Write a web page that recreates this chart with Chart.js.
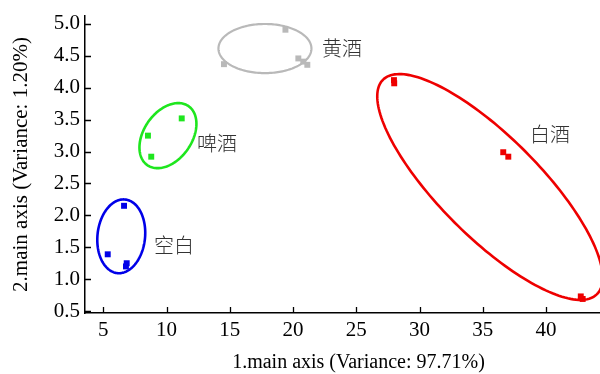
<!DOCTYPE html>
<html>
<head>
<meta charset="utf-8">
<script src="https://cdn.jsdelivr.net/npm/chart.js@4/dist/chart.umd.min.js"></script>
<style>
  html, body { margin: 0; padding: 0; background: #fff; overflow: hidden; }
  /* the plot runs a little past the right edge of the frame */
  #frame { width: 600px; height: 374px; overflow: hidden; position: relative; }
  #wrap { width: 632px; height: 374px; position: relative; }
  canvas { display: block; }
</style>
</head>
<body>
<div id="frame"><div id="wrap"><canvas id="c"></canvas></div></div>
<script>
// Sample groups (PCA scores)
const groups = ['空白', '啤酒', '黄酒', '白酒'];
const colors = ['#0000e8', '#1ee61e', '#b9b9b9', '#ee0000'];

const blankX  = [6.64, 5.35, 6.79, 6.85];
const blankY  = [2.15, 1.39, 1.20, 1.25];
const beerX   = [11.2, 8.53, 8.79];
const beerY   = [3.52, 3.25, 2.92];
const yellowX = [19.4, 14.54, 20.42, 20.81, 21.13];
const yellowY = [4.91, 4.37, 4.46, 4.41, 4.36];
const whiteX  = [27.98, 28.0, 36.62, 37.02, 42.75, 42.9];
const whiteY  = [4.12, 4.07, 2.99, 2.92, 0.73, 0.69];

// Confidence ellipses: centre and two conjugate semi-axes, in axis units
const ellCx = [6.42, 10.11, 17.78, 35.57];
const ellCy = [1.672, 3.25, 4.615, 2.445];
const ellU  = [[1.871, -0.039], [1.63, 0.462], [3.676, 0], [8.46, -1.68]];
const ellV  = [[0.306, 0.577], [-1.554, 0.216], [0, 0.385], [2.80, 0.556]];

// Group name positions (left edge, vertical middle), in axis units
const labelX = [9.01, 12.41, 22.29, 38.73];
const labelY = [1.536, 3.135, 4.62, 3.276];

const xTicks = [5, 10, 15, 20, 25, 30, 35, 40];
const yTicks = [0.5, 1.0, 1.5, 2.0, 2.5, 3.0, 3.5, 4.0, 4.5, 5.0];

const xs = [blankX, beerX, yellowX, whiteX];
const ys = [blankY, beerY, yellowY, whiteY];

const datasets = groups.map((g, i) => ({
  label: g,
  data: xs[i].map((x, k) => ({ x: x, y: ys[i][k] })),
  pointStyle: 'rect',
  pointRadius: 4.2,
  pointHoverRadius: 4.2,
  backgroundColor: colors[i],
  borderColor: colors[i],
  borderWidth: 0,
  showLine: false
}));

const ellipsePlugin = {
  id: 'ellipses',
  beforeDatasetsDraw(chart) {
    const { ctx, scales: { x, y } } = chart;
    ctx.save();
    groups.forEach((g, i) => {
      ctx.beginPath();
      const n = 180;
      for (let k = 0; k <= n; k++) {
        const t = (k / n) * Math.PI * 2;
        const dx = ellCx[i] + ellU[i][0] * Math.cos(t) + ellV[i][0] * Math.sin(t);
        const dy = ellCy[i] + ellU[i][1] * Math.cos(t) + ellV[i][1] * Math.sin(t);
        const px = x.getPixelForValue(dx);
        const py = y.getPixelForValue(dy);
        if (k === 0) ctx.moveTo(px, py); else ctx.lineTo(px, py);
      }
      ctx.closePath();
      ctx.strokeStyle = colors[i];
      ctx.lineWidth = i === 2 ? 2.2 : 2.6;
      ctx.stroke();
    });
    ctx.restore();
  },
  afterDatasetsDraw(chart) {
    const { ctx, scales: { x, y } } = chart;
    ctx.save();
    ctx.font = '300 20px "Noto Sans CJK SC"';
    ctx.fillStyle = '#333';
    ctx.textAlign = 'left';
    ctx.textBaseline = 'middle';
    groups.forEach((g, i) => {
      ctx.fillText(g, x.getPixelForValue(labelX[i]), y.getPixelForValue(labelY[i]));
    });
    ctx.restore();
  }
};

// Inward tick marks on both axes
const innerTicks = {
  id: 'innerTicks',
  afterDraw(chart) {
    const { ctx, chartArea, scales: { x, y } } = chart;
    ctx.save();
    ctx.strokeStyle = '#000';
    ctx.lineWidth = 1.3;
    ctx.beginPath();
    xTicks.forEach(v => {
      const px = Math.round(x.getPixelForValue(v)) + 0.5;
      ctx.moveTo(px, chartArea.bottom);
      ctx.lineTo(px, chartArea.bottom - 6);
    });
    yTicks.forEach(v => {
      const py = Math.round(y.getPixelForValue(v)) + 0.5;
      ctx.moveTo(chartArea.left, py);
      ctx.lineTo(chartArea.left + 6, py);
    });
    ctx.stroke();
    ctx.restore();
  }
};

new Chart(document.getElementById('c'), {
  type: 'scatter',
  data: { datasets },
  options: {
    responsive: true,
    maintainAspectRatio: false,
    animation: false,
    events: [],
    layout: { autoPadding: false, padding: { top: 16, right: 0, left: 0, bottom: 0 } },
    plugins: { legend: { display: false }, tooltip: { enabled: false } },
    scales: {
      x: {
        type: 'linear',
        min: 3.553,
        max: 46.8,
        afterBuildTicks(s) { s.ticks = xTicks.map(v => ({ value: v })); },
        afterFit(s) { s.height = 61; s.paddingLeft = 0; s.paddingRight = 0; },
        grid: { display: true, drawOnChartArea: false, drawTicks: false },
        border: { display: true, color: '#000', width: 1.5 },
        ticks: {
          padding: 5,
          color: '#000',
          font: { family: '"Liberation Serif"', size: 21 },
          callback: v => String(v)
        },
        title: {
          display: true,
          text: '1.main axis (Variance: 97.71%)',
          color: '#000',
          font: { family: '"Liberation Serif"', size: 20 },
          padding: { top: 0, bottom: -1 }
        }
      },
      y: {
        type: 'linear',
        min: 0.47,
        max: 5.125,
        afterBuildTicks(s) { s.ticks = yTicks.map(v => ({ value: v })); },
        afterFit(s) { s.width = 85; s.paddingTop = 0; s.paddingBottom = 0; },
        grid: { display: true, drawOnChartArea: false, drawTicks: false },
        border: { display: true, color: '#000', width: 1.5 },
        ticks: {
          padding: 5,
          color: '#000',
          font: { family: '"Liberation Serif"', size: 21 },
          callback: v => v.toFixed(1)
        },
        title: {
          display: true,
          text: '2.main axis (Variance: 1.20%)',
          color: '#000',
          font: { family: '"Liberation Serif"', size: 21 },
          padding: { top: 9, bottom: 0 }
        }
      }
    }
  },
  plugins: [ellipsePlugin, innerTicks]
});
</script>
</body>
</html>
